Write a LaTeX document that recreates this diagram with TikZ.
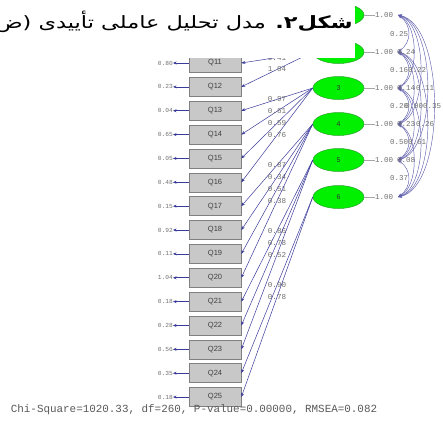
\documentclass[tikz,border=0pt]{standalone}
\usepackage{fontspec}
\usetikzlibrary{arrows.meta,shapes.geometric,calc}
\TeXXeTstate=1
\newfontfamily\arabicfont[Script=Arabic]{DejaVu Sans}
\newfontfamily\lismono{Liberation Mono}
\newfontfamily\lissans{Liberation Sans}
\definecolor{pathblue}{HTML}{3A3A9A}
\definecolor{boxfill}{HTML}{C8C8C8}
\definecolor{boxline}{HTML}{808080}
\definecolor{lvgreen}{HTML}{00F000}
\definecolor{lvline}{HTML}{30A030}
\definecolor{numgray}{HTML}{707070}
\tikzset{
  qbox/.style={draw=boxline, fill=boxfill, line width=0.6pt, minimum width=52pt, minimum height=19pt, inner sep=0pt, font=\lissans\fontsize{7.5}{8}\selectfont, text=black!75},
  lv/.style={ellipse, draw=lvline, fill=lvgreen, line width=0.5pt, minimum width=51pt, minimum height=23pt, inner sep=0pt, font=\lissans\fontsize{7}{8}\selectfont, text=black!80},
  errlab/.style={inner sep=0pt, anchor=east, font=\lismono\fontsize{6.2}{7}\selectfont, text=numgray},
  loadlab/.style={inner sep=0pt, font=\lismono\fontsize{7.6}{8}\selectfont, text=numgray},
  varlab/.style={inner sep=0pt, font=\lismono\fontsize{7.5}{8}\selectfont, text=numgray},
  corrlab/.style={inner sep=0pt, font=\lismono\fontsize{7.5}{8}\selectfont, text=numgray},
  errarr/.style={draw=pathblue, line width=0.6pt, -{Stealth[length=3.5pt,width=3pt]}},
  loadarr/.style={draw=pathblue, line width=0.5pt, -{Stealth[length=4pt,width=3pt]}},
  corrarr/.style={draw=pathblue!80, line width=0.45pt, {Stealth[length=4pt,width=3pt]}-{Stealth[length=4pt,width=3pt]}},
  varline/.style={draw=gray!70, line width=0.4pt}
}
\begin{document}
\begin{tikzpicture}[x=1pt,y=-1pt]
\useasboundingbox (0,0) rectangle (443,421);
\clip (0,0) rectangle (443,421);
% observed variables
\foreach \i/\e [count=\k from 0] in {11/0.80,12/0.23,13/0.04,14/0.65,15/0.05,16/0.48,17/0.15,18/0.92,19/0.11,20/1.04,21/0.18,22/0.28,23/0.56,24/0.35,25/0.18}{
  \node[qbox] (q\i) at (215,{63+\k*23.86}) {Q\i};
  \node[errlab] (e\i) at (173,{63+\k*23.86}) {\e};
  \draw[errarr] (q\i.west) -- (e\i.east);
}
% latent variables (labels of 1 and 2 are hidden under the caption panel)
\foreach \j/\y/\t in {1/15/,2/52/,3/88/3,4/124/4,5/160/5,6/197/6}{
  \node[lv] (f\j) at (338.5,\y) {\t};
  \node[varlab] (v\j) at (384,\y) {1.00};
  \draw[varline] (f\j.east) -- (v\j.west);
  \coordinate (c\j) at (398,\y);
}
% loadings
\foreach \f/\q/\l in {2/11/0.41,2/12/1.04,3/13/0.97,3/14/0.61,3/15/0.59,3/16/0.76,4/17/0.87,4/18/0.34,4/19/0.51,4/20/0.38,5/21/0.86,5/22/0.78,5/23/0.52,6/24/0.90,6/25/0.78}{
  \draw[loadarr] (f\f.west) -- (q\q.east) node[loadlab, pos=0.5] {\l};
}
% correlations
\foreach \a/\b/\d in {1/2/14,2/3/14,3/4/14,4/5/14,5/6/14,1/3/21,2/4/21,3/5/21,4/6/21,1/4/30,2/5/30,3/6/30,1/5/39,2/6/39,1/6/48}{
  \draw[corrarr] (c\a) .. controls ($(c\a)+(\d,10)$) and ($(c\b)+(\d,-10)$) .. (c\b);
}
\node[corrlab] (r12) at (399,34) {0.25};
\node[corrlab] (r13) at (406,52) {0.24};
\node[corrlab] (r23) at (399,70) {0.16};
\node[corrlab] (r14) at (417,70) {0.22};
\node[corrlab] (r24) at (406,88) {0.14};
\node[corrlab] (r15) at (425,88) {0.11};
\node[corrlab] (r34) at (399,106) {0.20};
\node[corrlab] (r25) at (414,106) {0.00};
\node[corrlab] (r16) at (432,106) {0.35};
\node[corrlab] (r35) at (406,124) {0.23};
\node[corrlab] (r26) at (425,124) {0.26};
\node[corrlab] (r45) at (399,142) {0.50};
\node[corrlab] (r36) at (417,142) {0.61};
\node[corrlab] (r46) at (406,160) {0.08};
\node[corrlab] (r56) at (399,178) {0.37};
% fit statistics
\node[inner sep=0pt, font=\lismono\fontsize{10.9}{12}\selectfont, text=black!65] (fit) at (194,410) {Chi-Square=1020.33, df=260, P-value=0.00000, RMSEA=0.082};
% caption overlay
\fill[white] (-5,-5) rectangle (355,58);
\node[anchor=east, inner sep=0pt, xscale=1.32, transform shape] (cap) at (353,22) {\arabicfont\fontsize{17}{20}\selectfont\beginR{\bfseries شکل۲}\kern0pt{\bfseries .} مدل تحلیل عاملی تأییدی (ض\endR};
\end{tikzpicture}
\end{document}
